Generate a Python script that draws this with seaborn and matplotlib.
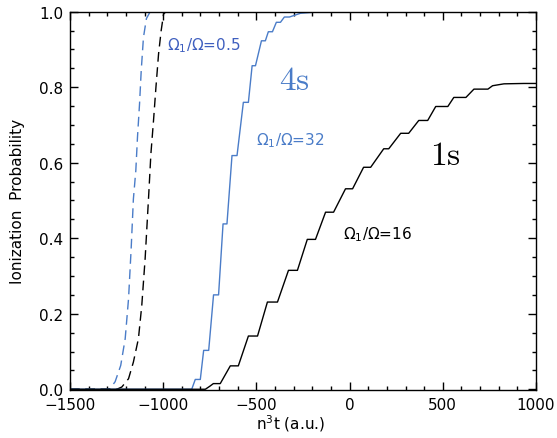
import numpy as np
import pandas as pd
import seaborn as sns
import matplotlib.pyplot as plt

# curve vertices (x = n^3 t in a.u., y = ionization probability)
x_4s_32 = [-1500, -847, -828, -801, -783, -756, -730, -703, -679, -658, -631, -604,
           -570, -543, -523, -505, -473, -452, -436, -414, -393, -371, -350, -323,
           -263, -156, 1000]
y_4s_32 = [0, 0, 0.026, 0.026, 0.103, 0.103, 0.25, 0.25, 0.438, 0.438, 0.619, 0.619,
           0.76, 0.76, 0.857, 0.857, 0.923, 0.923, 0.947, 0.947, 0.972, 0.972, 0.986, 0.986,
           0.996, 1.0, 1.0]

x_1s_16 = [-1500, -774, -750, -731, -694, -640, -597, -543, -494, -441, -387, -328, -280,
           -227, -183, -129, -86, -22, 16, 75, 113, 183, 210, 274, 317, 371, 419, 462, 527,
           559, 624, 667, 742, 767, 828, 935, 1000]
y_1s_16 = [0, 0, 0.008, 0.015, 0.015, 0.062, 0.062, 0.141, 0.141, 0.231, 0.231, 0.315, 0.315,
           0.397, 0.397, 0.469, 0.469, 0.531, 0.531, 0.588, 0.588, 0.637, 0.637, 0.678, 0.678,
           0.712, 0.712, 0.749, 0.749, 0.773, 0.773, 0.795, 0.795, 0.804, 0.809, 0.81, 0.81]

x_4s_05 = [-1500, -1300, -1285, -1258, -1228, -1204, -1186, -1172, -1160, -1147, -1138,
           -1127, -1118, -1106, -1090, -1070, 1000]
y_4s_05 = [0, 0, 0.002, 0.02, 0.063, 0.134, 0.24, 0.372, 0.504, 0.579, 0.668,
           0.756, 0.844, 0.932, 0.982, 1.0, 1.0]

x_1s_05 = [-1500, -1249, -1222, -1186, -1160, -1133, -1115, -1097, -1079, -1066, -1052,
           -1039, -1025, -1011, -998, -985, 1000]
y_1s_05 = [0, 0, 0.006, 0.028, 0.072, 0.134, 0.222, 0.346, 0.504, 0.624, 0.712,
           0.8, 0.888, 0.95, 0.994, 1.0, 1.0]

blue = '#4a7cc8'
blue_dark = '#3f5fbf'

sns.set_style('ticks')
plt.rcParams['font.family'] = ['DejaVu Sans']
plt.rcParams['mathtext.fontset'] = 'dejavusans'

fig, ax = plt.subplots(figsize=(5.57, 4.39), dpi=100)
fig.subplots_adjust(left=0.1257, right=0.9623, bottom=0.1093, top=0.971)

sns.lineplot(x=x_4s_05, y=y_4s_05, ax=ax, color=blue, lw=1.0,
             estimator=None, sort=False).lines[-1].set_dashes((7, 4))
sns.lineplot(x=x_1s_05, y=y_1s_05, ax=ax, color='black', lw=1.0,
             estimator=None, sort=False).lines[-1].set_dashes((7, 4))
sns.lineplot(x=x_4s_32, y=y_4s_32, ax=ax, color=blue, lw=1.0, estimator=None, sort=False)
sns.lineplot(x=x_1s_16, y=y_1s_16, ax=ax, color='black', lw=1.0, estimator=None, sort=False)

ax.set_xlim(-1500, 1000)
ax.set_ylim(-0.002, 1.0)
ax.set_xticks([-1500, -1000, -500, 0, 500, 1000])
ax.set_xticks(np.arange(-1500, 1001, 100), minor=True)
ax.set_yticks([0, 0.2, 0.4, 0.6, 0.8, 1.0])
ax.set_yticks(np.arange(0, 1.001, 0.05), minor=True)
ax.set_yticklabels(['0.0', '0.2', '0.4', '0.6', '0.8', '1.0'])
ax.tick_params(which='both', direction='in', top=True, right=True, labelsize=11,
               width=1.0, pad=5, colors='black')
ax.tick_params(which='major', length=5.5)
ax.tick_params(which='minor', length=3.2)
for s in ax.spines.values():
    s.set_linewidth(1.0)
    s.set_color('black')

ax.set_xlabel(r'n$^3$t (a.u.)', fontsize=11, color='black')
ax.set_ylabel('Ionization  Probability', fontsize=11, color='black')
ax.xaxis.set_label_coords(0.474, -0.058)
ax.yaxis.set_label_coords(-0.097, 0.5)

ax.text(-780, 0.901, r'$\Omega_1/\Omega$=0.5', color=blue_dark, fontsize=11,
        ha='center', va='baseline')
ax.text(-320, 0.65, r'$\Omega_1/\Omega$=32', color=blue, fontsize=11,
        ha='center', va='baseline')
ax.text(150, 0.399, r'$\Omega_1/\Omega$=16', color='black', fontsize=11,
        ha='center', va='baseline')
ax.text(-296, 0.795, r'$\mathrm{4s}$', color=blue, fontsize=24, math_fontfamily='cm',
        ha='center', va='baseline')
ax.text(516, 0.597, r'$\mathrm{1s}$', color='black', fontsize=24, math_fontfamily='cm',
        ha='center', va='baseline')

plt.savefig('out.png', dpi=100)
